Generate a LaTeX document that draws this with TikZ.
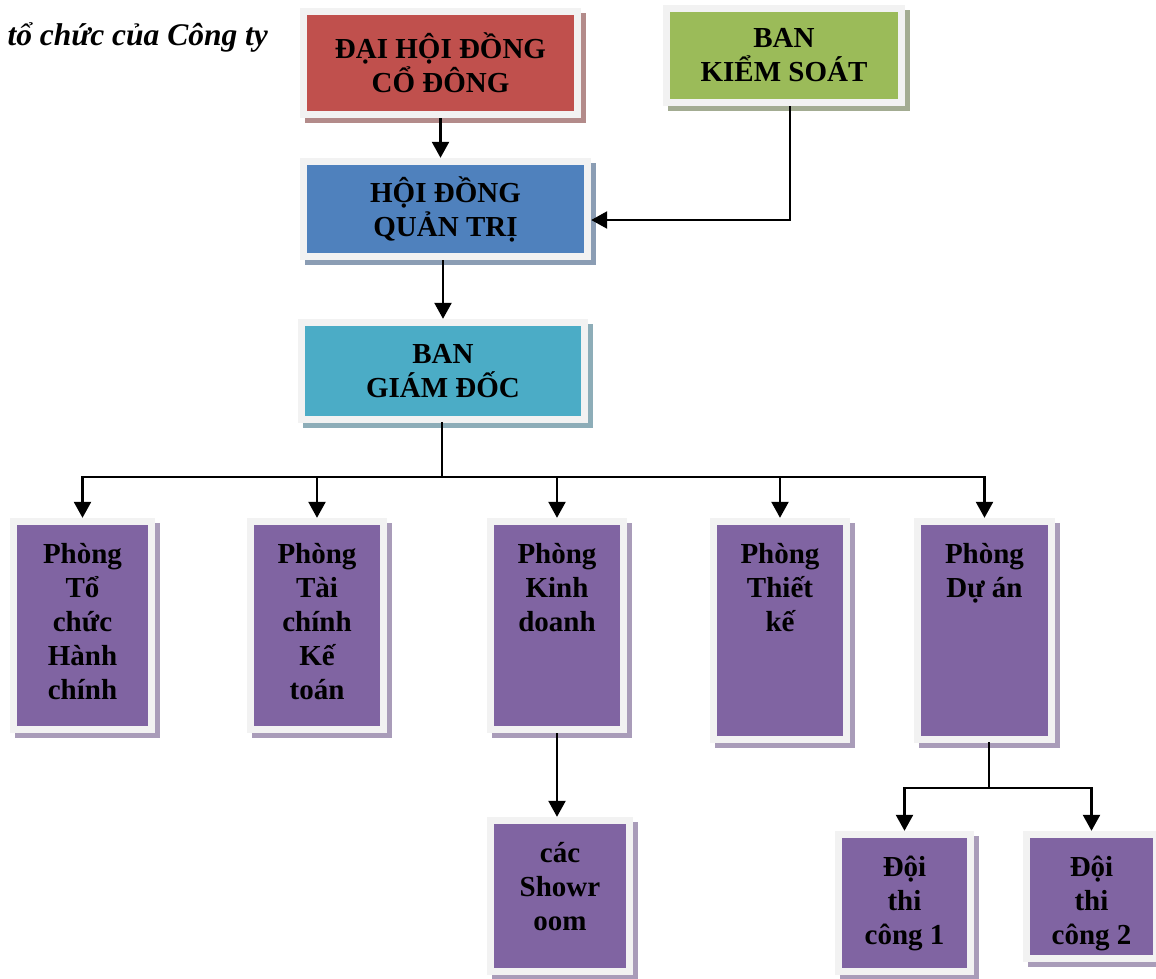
\documentclass[tikz,border=0pt]{standalone}
\usepackage{fontspec}
\setmainfont{Liberation Serif}
\usetikzlibrary{arrows.meta,shadows}
\newcommand\deptlines[3]{\parbox[c][#2pt][t]{#1pt}{\centering\rule{0pt}{45pt}#3}}

\begin{document}
\begin{tikzpicture}[x=1pt,y=-1pt,font=\fontsize{29}{34}\selectfont\bfseries,
  orgbox/.style={fill=frame,inner sep=0pt,align=center,
    drop shadow={shadow xshift=5pt,shadow yshift=-5pt,fill=#1sh,opacity=1},
    path picture={\fill[#1] ([shift={(7pt,-7pt)}]path picture bounding box.north west)
      rectangle ([shift={(-7pt,7pt)}]path picture bounding box.south east);}},
  link/.style={line width=2.4pt,line cap=rect},
  arr/.style={line width=2.4pt,-{Triangle[width=17pt,length=16pt]}}]
\definecolor{frame}{HTML}{F2F2F2}
\definecolor{dhd}{HTML}{C0504D}\definecolor{dhdsh}{HTML}{B38B8A}
\definecolor{bks}{HTML}{9BBB59}\definecolor{bkssh}{HTML}{A3AC92}
\definecolor{hdq}{HTML}{4F81BD}\definecolor{hdqsh}{HTML}{8B9DB4}
\definecolor{bgd}{HTML}{4BACC6}\definecolor{bgdsh}{HTML}{8DADB8}
\definecolor{dept}{HTML}{8064A2}\definecolor{deptsh}{HTML}{A99CB9}
\useasboundingbox[fill=white] (0,0) rectangle (1156,978);
\node[anchor=base west,font=\fontsize{31.5}{36}\selectfont\bfseries\itshape] (title) at (4,45) {tổ chức của Công ty};
\node[orgbox=dhd,minimum width=281pt,minimum height=110pt] (dhdcd) at (440.5,63) {ĐẠI HỘI ĐỒNG\\CỔ ĐÔNG};
\node[orgbox=bks,minimum width=242pt,minimum height=101pt] (bksoat) at (784,55.5) {BAN\\KIỂM SOÁT};
\node[orgbox=hdq,minimum width=291pt,minimum height=102pt] (hdqt) at (445.5,209) {HỘI ĐỒNG\\QUẢN TRỊ};
\node[orgbox=bgd,minimum width=290pt,minimum height=104pt] (bgdoc) at (443,371) {BAN\\GIÁM ĐỐC};
\node[orgbox=dept] (pA) at (82.5,625.5) {\deptlines{145}{215}{Phòng\\Tổ\\chức\\Hành\\chính}};
\node[orgbox=dept] (pB) at (317,625.5) {\deptlines{140}{215}{Phòng\\Tài\\chính\\Kế\\toán}};
\node[orgbox=dept] (pC) at (557,625.5) {\deptlines{140}{215}{Phòng\\Kinh\\doanh}};
\node[orgbox=dept] (pD) at (780,630.5) {\deptlines{140}{225}{Phòng\\Thiết\\kế}};
\node[orgbox=dept] (pE) at (984.5,630.5) {\deptlines{141}{225}{Phòng\\Dự án}};
\node[orgbox=dept] (room) at (560,896) {\deptlines{146}{158}{các\\Showr\\oom}};
\node[orgbox=dept] (doiA) at (904.5,903) {\deptlines{139}{144}{Đội\\thi\\công 1}};
\node[orgbox=dept] (doiB) at (1091.5,896.5) {\deptlines{137}{131}{Đội\\thi\\công 2}};
\coordinate (bus) at (442,477);
\coordinate (fork) at (989,788);
\draw[arr] (dhdcd.south) -- (dhdcd.south |- hdqt.north);
\draw[arr] ([xshift=6pt]bksoat.south) |- ([yshift=-11pt]hdqt.east);
\draw[arr] (bgdoc.north |- hdqt.south) -- (bgdoc.north);
\draw[link] (bus |- bgdoc.south) -- (bus);
\draw[link] (bus -| pA.north) -- (bus -| pE.north);
\foreach \d in {pA,pB,pC,pD,pE}
  \draw[arr] (bus -| \d.north) -- (\d.north);
\draw[arr] (pC.south) -- (pC.south |- room.north);
\draw[link] (fork |- pE.south) -- (fork);
\draw[link] (fork -| doiA.north) -- (fork -| doiB.north);
\draw[arr] (fork -| doiA.north) -- (doiA.north);
\draw[arr] (fork -| doiB.north) -- (doiB.north);
\end{tikzpicture}
\end{document}
